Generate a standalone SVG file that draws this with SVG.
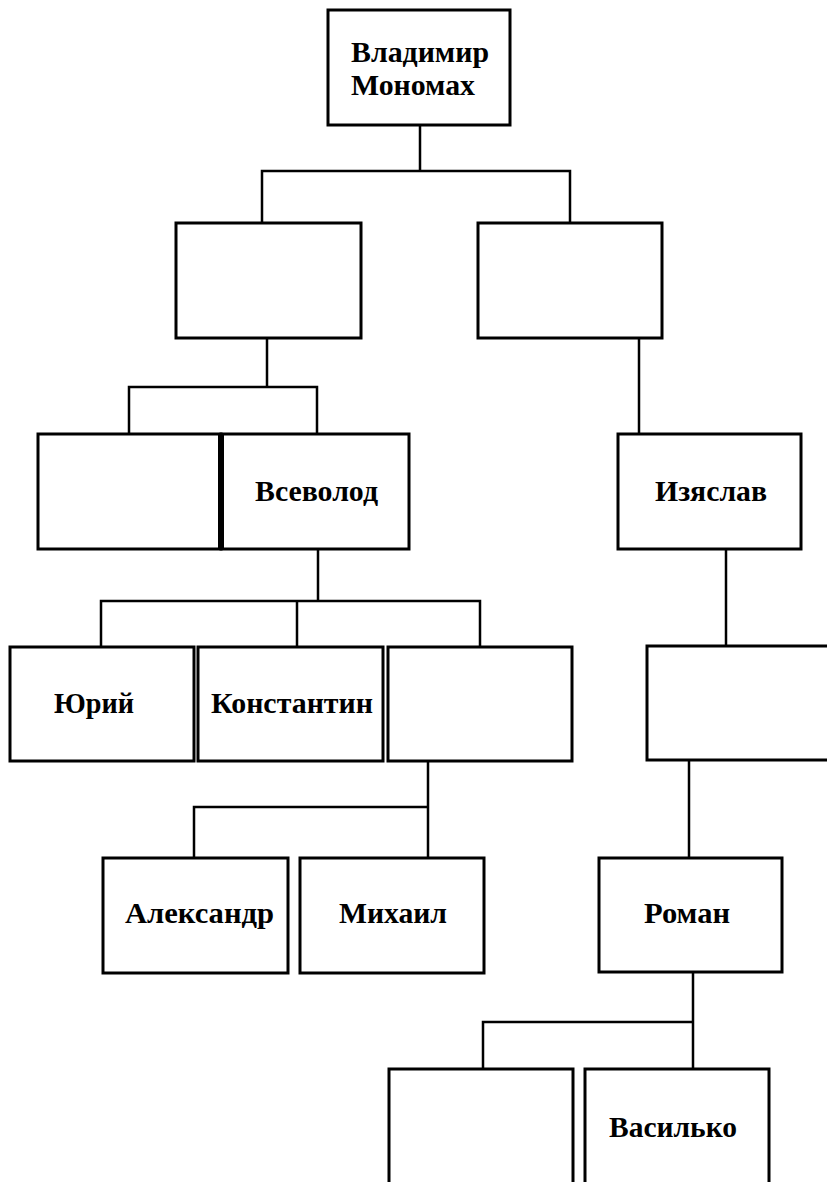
<svg xmlns="http://www.w3.org/2000/svg" width="827" height="1182" viewBox="0 0 827 1182">
<style>
.b{fill:#fff;stroke:#000;stroke-width:3}
.c{fill:none;stroke:#000;stroke-width:2.5}
.t{font-family:"Liberation Serif",serif;font-weight:bold;font-size:30px;fill:#000}
</style>
<rect width="827" height="1182" fill="#fff"/>
<g id="connectors">
<path class="c" d="M420 125V171M262 222V171H570V222"/>
<path class="c" d="M267 338V387M129 434V387H317V434"/>
<path class="c" d="M639 338V434"/>
<path class="c" d="M318 549V601M101 646V601H480V646M297 601V646"/>
<path class="c" d="M726 549V646"/>
<path class="c" d="M428 761V858M194 858V807H428"/>
<path class="c" d="M689 760V858"/>
<path class="c" d="M693 972V1069M483 1069V1022H693"/>
</g>
<g id="n1"><rect class="b" x="328" y="10" width="182" height="115"/>
<text class="t" x="351" y="62" textLength="138" lengthAdjust="spacingAndGlyphs">Владимир</text>
<text class="t" x="351" y="95" textLength="124" lengthAdjust="spacingAndGlyphs">Мономах</text></g>
<g id="n2"><rect class="b" x="176" y="223" width="185" height="115"/></g>
<g id="n3"><rect class="b" x="478" y="223" width="184" height="115"/></g>
<g id="n4"><rect class="b" x="38" y="434" width="183" height="115"/></g>
<g id="n5"><rect class="b" x="221" y="434" width="188" height="115"/>
<line x1="221" y1="434" x2="221" y2="549" stroke="#000" stroke-width="6"/>
<text class="t" x="255" y="501" textLength="123" lengthAdjust="spacingAndGlyphs">Всеволод</text></g>
<g id="n6"><rect class="b" x="618" y="434" width="183" height="115"/>
<text class="t" x="655" y="501" textLength="112" lengthAdjust="spacingAndGlyphs">Изяслав</text></g>
<g id="n7"><rect class="b" x="10" y="647" width="184" height="114"/>
<text class="t" x="54" y="713" textLength="80" lengthAdjust="spacingAndGlyphs">Юрий</text></g>
<g id="n8"><rect class="b" x="198" y="647" width="185" height="114"/>
<text class="t" x="211" y="713" textLength="162" lengthAdjust="spacingAndGlyphs">Константин</text></g>
<g id="n9"><rect class="b" x="388" y="647" width="184" height="114"/></g>
<g id="n10"><rect class="b" x="647" y="646" width="190" height="114"/></g>
<g id="n11"><rect class="b" x="103" y="858" width="185" height="115"/>
<text class="t" x="125" y="923" textLength="149" lengthAdjust="spacingAndGlyphs">Александр</text></g>
<g id="n12"><rect class="b" x="300" y="858" width="184" height="115"/>
<text class="t" x="339" y="923" textLength="108" lengthAdjust="spacingAndGlyphs">Михаил</text></g>
<g id="n13"><rect class="b" x="599" y="858" width="183" height="114"/>
<text class="t" x="644" y="923" textLength="86" lengthAdjust="spacingAndGlyphs">Роман</text></g>
<g id="n14"><rect class="b" x="389" y="1069" width="184" height="130"/></g>
<g id="n15"><rect class="b" x="585" y="1069" width="184" height="130"/>
<text class="t" x="609" y="1137" textLength="128" lengthAdjust="spacingAndGlyphs">Василько</text></g>
</svg>
